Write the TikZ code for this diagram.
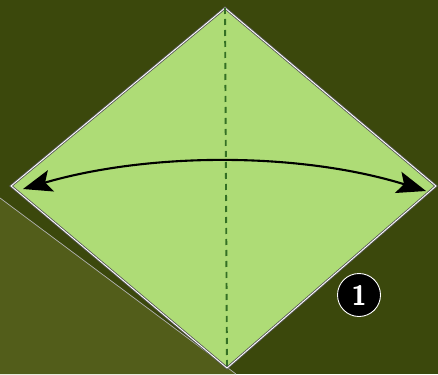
\documentclass[tikz,border=0pt]{standalone}
\usetikzlibrary{arrows.meta}
\definecolor{bgdark}{HTML}{3B480C}
\definecolor{bglight}{HTML}{525D1A}
\definecolor{paper}{HTML}{AEDC76}
\definecolor{crease}{HTML}{347024}
\begin{document}
\begin{tikzpicture}[x=1pt,y=-1pt]
	\useasboundingbox (0,0) rectangle (438,374);
	\fill [bgdark] (0,0) rectangle (438,374);
	\fill [bglight] (0,198) -- (236,374) -- (0,374) -- cycle;
	\draw [gray!60, line width=0.7] (0,198) -- (236,374);
	\coordinate (top) at (225,8);
	\coordinate (right) at (436,186);
	\coordinate (bottom) at (227,368);
	\coordinate (left) at (11,186);
	\fill [paper] (top) -- (right) -- (bottom) -- (left) -- cycle;
	\draw [gray!70!black, line width=2.6, line join=miter] (top) -- (right) -- (bottom) -- (left) -- cycle;
	\draw [white, line width=0.9, line join=miter] (top) -- (right) -- (bottom) -- (left) -- cycle;
	\draw [crease, line width=1.9, dash pattern=on 6pt off 5pt] (top) -- (bottom);
	\coordinate (tipl) at (23,189);
	\coordinate (tipr) at (426,191);
	\draw [line width=2.1, {Stealth[length=29pt,width=22pt,inset=6pt]}-{Stealth[length=29pt,width=22pt,inset=6pt]}] (tipl) .. controls (150,152) and (300,152) .. (tipr);
	\node [circle, fill=black, draw=white, line width=0.9, minimum size=43pt, inner sep=0pt, text=white, font=\sffamily\bfseries\fontsize{28}{28}\selectfont] (stepone) at (359,295) {1};
\end{tikzpicture}
\end{document}
